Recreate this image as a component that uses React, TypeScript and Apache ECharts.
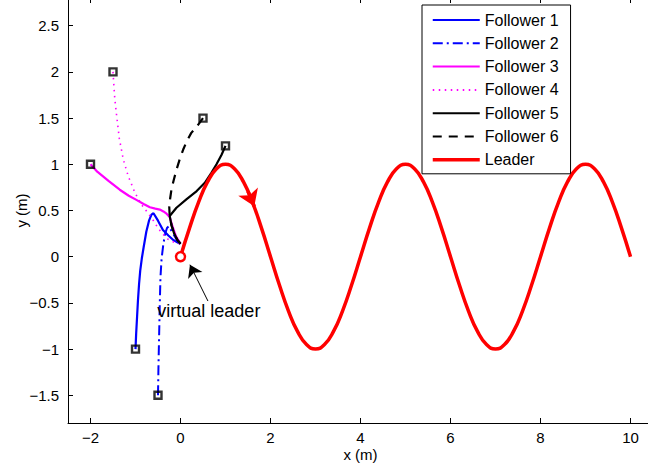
import React, { useEffect, useRef } from "react";
import * as echarts from "echarts";

// ---- data ----
const xTicks = [-2, 0, 2, 4, 6, 8, 10];
const yTicks = [-1.5, -1, -0.5, 0, 0.5, 1, 1.5, 2, 2.5];

const follower1 = [[-1, -1], [-0.985, -0.83], [-0.965, -0.65], [-0.945, -0.47], [-0.92, -0.29], [-0.895, -0.15], [-0.86, -0.02], [-0.82, 0.1], [-0.76, 0.27], [-0.7, 0.39], [-0.645, 0.455], [-0.6, 0.47], [-0.5, 0.39], [-0.39, 0.29], [-0.27, 0.23], [-0.16, 0.18], [-0.05, 0.15], [0, 0.14]];
const follower2 = [[-0.5, -1.5], [-0.49, -1.2], [-0.475, -0.85], [-0.46, -0.5], [-0.445, -0.22], [-0.42, -0.02], [-0.38, 0.14], [-0.34, 0.25], [-0.3, 0.31], [-0.26, 0.33], [-0.18, 0.26], [-0.09, 0.19], [0, 0.14]];
const follower3 = [[-2, 1], [-1.85, 0.92], [-1.6, 0.82], [-1.35, 0.725], [-1.15, 0.66], [-0.98, 0.615], [-0.82, 0.57], [-0.68, 0.535], [-0.56, 0.52], [-0.46, 0.51], [-0.38, 0.49], [-0.31, 0.465], [-0.24, 0.43], [-0.18, 0.33], [-0.1, 0.22], [0, 0.14]];
const follower4 = [[-1.5, 2], [-1.48, 1.85], [-1.46, 1.71], [-1.42, 1.53], [-1.36, 1.28], [-1.27, 1.05], [-1.16, 0.87], [-1.01, 0.69], [-0.87, 0.565], [-0.72, 0.47], [-0.6, 0.39], [-0.5, 0.31], [-0.4, 0.25], [-0.28, 0.19], [-0.14, 0.155], [0, 0.14]];
const follower5 = [[1, 1.2], [0.91, 1.1], [0.8, 1.0], [0.69, 0.91], [0.54, 0.8], [0.36, 0.71], [0.13, 0.62], [-0.09, 0.53], [-0.24, 0.44], [-0.2, 0.34], [-0.14, 0.25], [-0.07, 0.18], [0, 0.14]];
const follower6 = [[0.5, 1.5], [0.38, 1.42], [0.24, 1.34], [0.14, 1.25], [0.06, 1.16], [-0.02, 1.05], [-0.09, 0.94], [-0.15, 0.83], [-0.2, 0.73], [-0.23, 0.63], [-0.25, 0.54], [-0.24, 0.44], [-0.2, 0.34], [-0.14, 0.25], [-0.07, 0.18], [0, 0.14]];

const leaderX = [0, 0.2, 0.4, 0.6, 0.8, 1, 1.2, 1.4, 1.6, 1.8, 2, 2.2, 2.4, 2.6, 2.8, 3, 3.2, 3.4, 3.6, 3.8, 4, 4.2, 4.4, 4.6, 4.8, 5, 5.2, 5.4, 5.6, 5.8, 6, 6.2, 6.4, 6.6, 6.8, 7, 7.2, 7.4, 7.6, 7.8, 8, 8.2, 8.4, 8.6, 8.8, 9, 9.2, 9.4, 9.6, 9.8, 10];
const leaderY = [0, 0.309, 0.588, 0.809, 0.951, 1, 0.951, 0.809, 0.588, 0.309, 0, -0.309, -0.588, -0.809, -0.951, -1, -0.951, -0.809, -0.588, -0.309, 0, 0.309, 0.588, 0.809, 0.951, 1, 0.951, 0.809, 0.588, 0.309, 0, -0.309, -0.588, -0.809, -0.951, -1, -0.951, -0.809, -0.588, -0.309, 0, 0.309, 0.588, 0.809, 0.951, 1, 0.951, 0.809, 0.588, 0.309, 0];

const virtualLeader = [0, 0];
const leaderArrow = [[1.5, 0.707], [1.64, 0.545]];
const noteArrow = [[0.61, -0.48], [0.21, -0.087]];
const notePos = [0.63, -0.59];
const noteText = "virtual leader";

const names = ["Follower 1", "Follower 2", "Follower 3", "Follower 4", "Follower 5", "Follower 6", "Leader"];
const followers = [follower1, follower2, follower3, follower4, follower5, follower6];
const colors = ["#0000ff", "#0000ff", "#ff00ff", "#ff00ff", "#000000", "#000000", "#ff0000"];
const dashes: any[] = ["solid", [10, 4, 2, 4], "solid", [1.5, 4.5], "solid", [9, 7], "solid"];
const widths = [2.2, 2, 2.2, 1.6, 2.2, 2.2, 3.5];

const FONT = "'Liberation Sans', Arial, Helvetica, sans-serif";
const fmt = (v: number) => String(v).replace("-", "\u2212");

export default function App() {
  const ref = useRef<HTMLDivElement>(null);
  useEffect(() => {
    const chart = echarts.init(ref.current!, null, { renderer: "svg" });
    const followerSeries = followers.map((f, i) => ({
      name: names[i],
      type: "line",
      data: f,
      symbol: "none",
      showSymbol: false,
      smooth: false,
      silent: true,
      lineStyle: { color: colors[i], width: widths[i], type: dashes[i] },
      itemStyle: { color: colors[i] },
      z: 2 + i * 0.01,
    }));
    const option: any = {
      animation: false,
      backgroundColor: "#ffffff",
      textStyle: { fontFamily: FONT },
      grid: { left: 68, right: -5, top: -2, bottom: 47, containLabel: false, outerBoundsMode: "none" },
      xAxis: [
        {
          type: "value",
          min: -2.5,
          max: 10.5,
          position: "bottom",
          splitLine: { show: false },
          axisLine: { show: true, onZero: false, lineStyle: { color: "#000", width: 1 } },
          axisTick: { show: true, inside: true, length: 5, customValues: xTicks, lineStyle: { color: "#000" } },
          axisLabel: { show: true, customValues: xTicks, formatter: fmt, color: "#000", fontSize: 15, fontFamily: FONT, margin: 7 },
          name: "x (m)",
          nameLocation: "middle",
          nameGap: 24,
          nameMoveOverlap: false,
          nameTextStyle: { color: "#000", fontSize: 15, fontFamily: FONT },
        },
        {
          type: "value",
          min: -2.5,
          max: 10.5,
          position: "top",
          splitLine: { show: false },
          axisLine: { show: true, onZero: false, lineStyle: { color: "#000", width: 1 } },
          axisTick: { show: true, inside: true, length: 5, customValues: xTicks, lineStyle: { color: "#000" } },
          axisLabel: { show: false },
        },
      ],
      yAxis: [
        {
          type: "value",
          min: -1.8,
          max: 2.8,
          position: "left",
          splitLine: { show: false },
          axisLine: { show: true, onZero: false, lineStyle: { color: "#000", width: 1 } },
          axisTick: { show: true, inside: true, length: 5, customValues: yTicks, lineStyle: { color: "#000" } },
          axisLabel: { show: true, customValues: yTicks, formatter: fmt, color: "#000", fontSize: 15, fontFamily: FONT, margin: 9 },
          name: "y (m)",
          nameLocation: "middle",
          nameGap: 39,
          nameMoveOverlap: false,
          nameTextStyle: { color: "#000", fontSize: 15, fontFamily: FONT },
        },
        {
          type: "value",
          min: -1.8,
          max: 2.8,
          position: "right",
          splitLine: { show: false },
          axisLine: { show: true, onZero: false, lineStyle: { color: "#000", width: 1 } },
          axisTick: { show: true, inside: true, length: 5, customValues: yTicks, lineStyle: { color: "#000" } },
          axisLabel: { show: false },
        },
      ],
      legend: {
        orient: "vertical",
        left: 422,
        top: 5,
        padding: [7, 12, 6, 9],
        itemWidth: 47,
        itemHeight: 16,
        itemGap: 7.3,
        backgroundColor: "#ffffff",
        borderColor: "#000",
        borderWidth: 1,
        borderRadius: 0,
        selectedMode: false,
        textStyle: { color: "#000", fontSize: 16, lineHeight: 16, fontFamily: FONT },
        itemStyle: { color: "rgba(0,0,0,0)", borderWidth: 0, opacity: 0 },
        data: names.map((n, i) => ({ name: n, lineStyle: { width: i === 6 ? 3.5 : 2, type: dashes[i], color: colors[i] } })),
      },
      series: [
        ...followerSeries,
        {
          name: "Leader",
          type: "line",
          data: leaderX.map((x, i) => [x, leaderY[i]]),
          symbol: "none",
          showSymbol: false,
          smooth: true,
          silent: true,
          lineStyle: { color: "#ff0000", width: 3.5 },
          itemStyle: { color: "#ff0000" },
          z: 3,
          markLine: {
            silent: true,
            symbol: ["none", "arrow"],
            symbolSize: 16,
            label: { show: false },
            emphasis: { disabled: true },
            lineStyle: { color: "#ff0000", width: 3.5, type: "solid" },
            data: [[{ coord: leaderArrow[0] }, { coord: leaderArrow[1] }]],
          },
        },
        {
          name: "starts",
          type: "scatter",
          data: followers.map((f) => f[0]),
          symbol: "rect",
          symbolSize: 7,
          silent: true,
          itemStyle: { color: "rgba(0,0,0,0)", borderColor: "#000000", borderWidth: 2.4 },
          z: 5,
        },
        {
          name: "virtual",
          type: "scatter",
          data: [virtualLeader],
          symbol: "circle",
          symbolSize: 9,
          silent: true,
          itemStyle: { color: "#ffffff", borderColor: "#ff0000", borderWidth: 2.4, opacity: 1 },
          z: 6,
          markLine: {
            silent: true,
            symbol: ["none", "arrow"],
            symbolSize: 12,
            label: { show: false },
            emphasis: { disabled: true },
            lineStyle: { color: "#000", width: 1, type: "solid" },
            data: [[{ coord: noteArrow[0] }, { coord: noteArrow[1] }]],
          },
        },
        {
          name: "note",
          type: "scatter",
          data: [notePos],
          symbol: "circle",
          symbolSize: 1,
          silent: true,
          itemStyle: { color: "#ffffff", opacity: 0 },
          label: {
            show: true,
            position: "inside",
            formatter: noteText,
            color: "#000000",
            opacity: 1,
            textBorderWidth: 0,
            fontSize: 18,
            fontFamily: FONT,
          },
          z: 7,
        },
      ],
    };
    chart.setOption(option);
    return () => chart.dispose();
  }, []);
  return (
    <div
      ref={ref}
      style={{ position: "fixed", left: 0, top: 0, width: 648, height: 470, background: "#fff" }}
    />
  );
}
